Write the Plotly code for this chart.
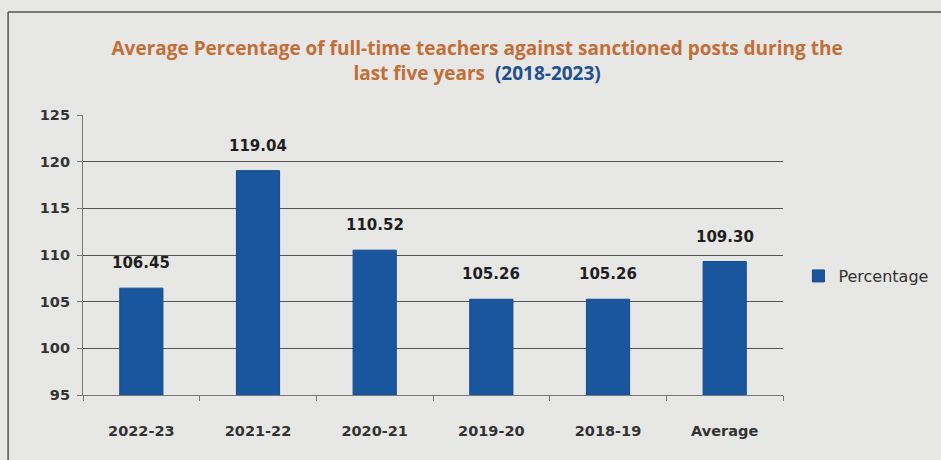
import plotly.graph_objects as go

categories = ["2022-23", "2021-22", "2020-21", "2019-20", "2018-19", "Average"]
percentage = [106.45, 119.04, 110.52, 105.26, 105.26, 109.30]
value_labels = ["106.45", "119.04", "110.52", "105.26", "105.26", "109.30"]
y_ticks = [95, 100, 105, 110, 115, 120, 125]

TICKFONT = dict(family="DejaVu Sans, sans-serif", size=14.5, color="#333333", weight="bold")

fig = go.Figure()
fig.add_trace(go.Bar(
    x=categories, y=percentage, name="Percentage",
    marker=dict(color="#1a569e", line=dict(color="#174a8a", width=1)),
    showlegend=True,
))

for c, v, t in zip(categories, percentage, value_labels):
    fig.add_annotation(x=c, y=v, text=t, showarrow=False, yshift=25,
                       yanchor="middle",
                       font=dict(family="DejaVu Sans, sans-serif", size=15,
                                 color="#1e1e1e", weight="bold"))

fig.update_layout(
    width=941, height=460,
    margin=dict(l=83, r=158, t=115, b=65, autoexpand=False),
    paper_bgcolor="#e7e7e5", plot_bgcolor="#e7e7e5",
    bargap=0.63,
    title=dict(
        text="<b>Average Percentage of full-time teachers against sanctioned posts during the<br>last five years  <span style='color:#1f4f8f'>(2018-2023)</span></b>",
        x=0.507, xanchor="center", xref="container",
        y=0.880, yanchor="middle", yref="container",
        font=dict(family="Open Sans, sans-serif", size=19, color="#c26e38"),
    ),
    legend=dict(x=1.022, y=0.425, xanchor="left", yanchor="middle",
                bgcolor="rgba(0,0,0,0)",
                font=dict(family="DejaVu Sans, sans-serif", size=16, color="#333"),
                itemwidth=30),
    xaxis=dict(
        showline=True, linecolor="#777", linewidth=1.2,
        ticks="outside", ticklen=5, tickcolor="#777",
        tickson="boundaries",
        tickfont=TICKFONT,
        ticklabelstandoff=22,
    ),
    yaxis=dict(
        range=[95, 125], tickvals=y_ticks,
        showline=True, linecolor="#777", linewidth=1.2,
        ticks="outside", ticklen=5, tickcolor="#777",
        showgrid=True, gridcolor="#555", gridwidth=1.3,
        tickfont=TICKFONT,
        ticklabelstandoff=4,
        zeroline=False,
    ),
)

# outer chart frame (top and left edges visible in photo)
fig.add_shape(type="line", xref="paper", yref="paper",
              x0=-0.107, x1=1.23, y0=1.368, y1=1.368,
              line=dict(color="#555", width=1.5))
fig.add_shape(type="line", xref="paper", yref="paper",
              x0=-0.107, x1=-0.107, y0=1.368, y1=-0.25,
              line=dict(color="#555", width=1.5))

fig.write_html("out.html")
